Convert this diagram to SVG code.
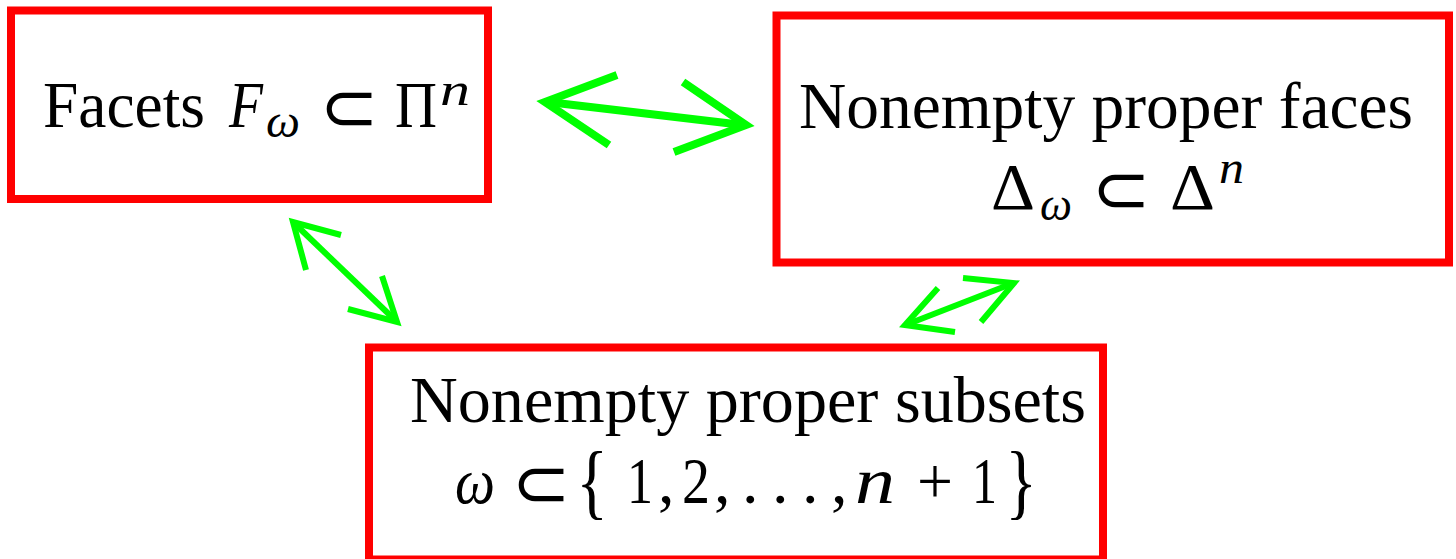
<svg xmlns="http://www.w3.org/2000/svg" width="1456" height="559" viewBox="0 0 1456 559">
<style>
.box{fill:#fff;stroke:#ff0000;stroke-width:8}
.t{font-family:"Liberation Serif","DejaVu Serif",serif;font-size:66px;fill:#000}
.i{font-style:italic}
.s{font-size:46px}
.sub{font-family:"DejaVu Sans","Liberation Sans",sans-serif;font-size:70px}
.arr{fill:none;stroke:#00ff00;stroke-linecap:butt;stroke-linejoin:miter}
</style>
<rect width="1456" height="559" fill="#fff"/>
<g id="node-facets">
<rect class="box" x="11" y="10.5" width="477" height="188.5"/>
<text class="t" x="43" y="127" textLength="162" lengthAdjust="spacingAndGlyphs">Facets</text>
<text class="t i" x="229" y="127" textLength="34" lengthAdjust="spacingAndGlyphs">F</text>
<text class="t i s" x="266" y="137" textLength="34" lengthAdjust="spacingAndGlyphs">ω</text>
<text class="t sub" x="349" y="131" text-anchor="middle">⊂</text>
<text class="t" x="395" y="127" textLength="42" lengthAdjust="spacingAndGlyphs">Π</text>
<text class="t i s" x="440" y="105" textLength="30" lengthAdjust="spacingAndGlyphs">n</text>
</g>
<g id="node-faces">
<rect class="box" x="776.5" y="15.5" width="672.5" height="247"/>
<text class="t" x="799" y="128" textLength="614" lengthAdjust="spacingAndGlyphs">Nonempty proper faces</text>
<text class="t" x="991" y="209" textLength="44" lengthAdjust="spacingAndGlyphs">Δ</text>
<text class="t i s" x="1040" y="220" textLength="32" lengthAdjust="spacingAndGlyphs">ω</text>
<text class="t sub" x="1121" y="213" text-anchor="middle">⊂</text>
<text class="t" x="1170" y="209" textLength="45" lengthAdjust="spacingAndGlyphs">Δ</text>
<text class="t i s" x="1219" y="183" textLength="25" lengthAdjust="spacingAndGlyphs">n</text>
</g>
<g id="node-subsets">
<rect class="box" x="369" y="347.5" width="734" height="212"/>
<text class="t" x="410" y="422" textLength="676" lengthAdjust="spacingAndGlyphs">Nonempty proper subsets</text>
<text class="t i" x="455" y="503" textLength="40" lengthAdjust="spacingAndGlyphs">ω</text>
<text class="t sub" x="541" y="507" text-anchor="middle">⊂</text>
<text class="t" transform="translate(592,509) scale(1,1.25)" x="0" y="0" text-anchor="middle">{</text>
<text class="t" x="627" y="503" textLength="26" lengthAdjust="spacingAndGlyphs">1</text>
<text class="t" x="658" y="503">,</text>
<text class="t" x="682" y="503" textLength="28" lengthAdjust="spacingAndGlyphs">2</text>
<text class="t" x="714" y="503">,</text>
<text class="t" x="742" y="503">.</text>
<text class="t" x="772" y="503">.</text>
<text class="t" x="802" y="503">.</text>
<text class="t" x="831" y="503">,</text>
<text class="t i" x="855" y="503" textLength="40" lengthAdjust="spacingAndGlyphs">n</text>
<text class="t" x="917" y="503" textLength="36" lengthAdjust="spacingAndGlyphs">+</text>
<text class="t" x="972" y="503" textLength="25" lengthAdjust="spacingAndGlyphs">1</text>
<text class="t" transform="translate(1021,509) scale(1,1.25)" x="0" y="0" text-anchor="middle">}</text>
</g>
<g id="connectors">
<g class="arr" stroke-width="8">
<line x1="548" y1="102" x2="743" y2="125"/>
<polyline points="617,75 545,102 609,145"/>
<polyline points="683,82 746,125 674,152"/>
</g>
<g class="arr" stroke-width="6">
<line x1="295" y1="224" x2="394" y2="319"/>
<polyline points="341,235 293,222 306,270"/>
<polyline points="382,276 397,322 348,309"/>
</g>
<g class="arr" stroke-width="6">
<line x1="908" y1="324" x2="1011" y2="284"/>
<polyline points="938,288 905,325 955,332"/>
<polyline points="963,278 1014,283 981,322"/>
</g>
</g>
</svg>
